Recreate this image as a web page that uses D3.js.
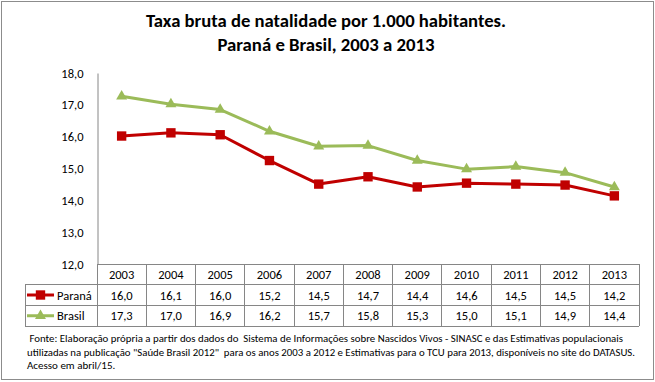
<!DOCTYPE html>
<html>
<head>
<meta charset="utf-8">
<script src="https://cdn.jsdelivr.net/npm/d3@7"></script>
<style>
  html, body { margin: 0; padding: 0; background: #fff; }
  svg { display: block; }
  text { font-family: Carlito, Calibri, Lato, "Open Sans", sans-serif; fill: #000; }
</style>
</head>
<body>
<svg id="chart" width="655" height="382"></svg>
<script>
// ---- data ----
const years = ["2003","2004","2005","2006","2007","2008","2009","2010","2011","2012","2013"];
const seriesNames = ["Paraná", "Brasil"];
// values as plotted
const paranaValues = [16.02, 16.12, 16.06, 15.25, 14.51, 14.74, 14.42, 14.54, 14.51, 14.48, 14.14];
const brasilValues = [17.27, 17.02, 16.85, 16.17, 15.70, 15.72, 15.25, 14.98, 15.06, 14.87, 14.42];
// values as printed in the data table
const paranaTable = [16.0, 16.1, 16.0, 15.2, 14.5, 14.7, 14.4, 14.6, 14.5, 14.5, 14.2];
const brasilTable = [17.3, 17.0, 16.9, 16.2, 15.7, 15.8, 15.3, 15.0, 15.1, 14.9, 14.4];
const yTicks = [12, 13, 14, 15, 16, 17, 18];
const titleLines = ["Taxa bruta de natalidade por 1.000 habitantes.", "Paraná e Brasil, 2003 a 2013"];
const footLines = [
  " Fonte: Elaboração própria a partir dos dados do  Sistema de Informações sobre Nascidos Vivos - SINASC e das Estimativas populacionais",
  "utilizadas na publicação \"Saúde Brasil 2012\"  para os anos 2003 a 2012 e Estimativas para o TCU para 2013, disponíveis no site do DATASUS.",
  "Acesso em abril/15."
];

// ---- layout ----
const svg = d3.select("#chart");
const W = 655, H = 382;
const plot = { left: 97, right: 639, top: 73, bottom: 264 };
const rowY = [264, 284.5, 305.5, 326];
const legendLeft = 25;
const gridColor = "#868686";
const colors = { "Paraná": "#C00000", "Brasil": "#9BBB59" };
const labelSize = 12.5;

const fmt = v => d3.format(".1f")(v).replace(".", ",");

// outer border
svg.append("rect").attr("x", 1.5).attr("y", 1.5).attr("width", W - 3).attr("height", H - 4)
  .attr("fill", "#fff").attr("stroke", "#8c8c8c").attr("stroke-width", 1);

// title
svg.append("g").selectAll("text").data(titleLines).join("text")
  .attr("x", 326).attr("y", (d, i) => 27 + i * 23.5)
  .attr("text-anchor", "middle")
  .attr("font-size", 17).attr("font-weight", "bold")
  .attr("textLength", (d, i) => i === 0 ? 360 : 217)
  .attr("lengthAdjust", "spacingAndGlyphs")
  .text(d => d);

// scales
const x = d3.scaleBand().domain(years).range([plot.left, plot.right]).paddingInner(0).paddingOuter(0);
const y = d3.scaleLinear().domain([12, 18]).range([plot.bottom, plot.top]);

// y axis
const yAxis = d3.axisLeft(y).tickValues(yTicks).tickFormat(fmt).tickSize(0).tickPadding(14);
const gy = svg.append("g").attr("transform", `translate(${plot.left + 0.5},0)`).call(yAxis);
gy.select(".domain").attr("stroke", gridColor).attr("stroke-width", 1);
gy.selectAll("text").attr("font-size", labelSize).attr("fill", "#000")
  .style("font-family", "Carlito, Calibri, Lato, sans-serif");

// data table grid
const tg = svg.append("g").attr("stroke", gridColor).attr("stroke-width", 1).attr("shape-rendering", "crispEdges");
tg.append("line").attr("x1", plot.left).attr("x2", plot.right).attr("y1", rowY[0]).attr("y2", rowY[0]);
[1, 2, 3].forEach(i => {
  tg.append("line").attr("x1", legendLeft).attr("x2", plot.right).attr("y1", rowY[i]).attr("y2", rowY[i]);
});
const bounds = years.map(d => x(d)).concat([x(years[years.length - 1]) + x.bandwidth()]);
tg.selectAll("line.v").data(bounds).join("line").attr("class", "v")
  .attr("x1", d => d).attr("x2", d => d).attr("y1", rowY[0]).attr("y2", rowY[3]);
tg.append("line").attr("x1", legendLeft).attr("x2", legendLeft).attr("y1", rowY[1]).attr("y2", rowY[3]);

// table text
const cellText = (row, arr, isNum) => {
  svg.append("g").selectAll("text").data(arr).join("text")
    .attr("x", (d, i) => x(years[i]) + x.bandwidth() / 2)
    .attr("y", (rowY[row] + rowY[row + 1]) / 2 + 4.5)
    .attr("text-anchor", "middle").attr("font-size", labelSize)
    .text(d => isNum ? fmt(d) : d);
};
cellText(0, years, false);
cellText(1, paranaTable, true);
cellText(2, brasilTable, true);

// line series
const series = [
  { name: "Paraná", values: paranaValues, marker: "square" },
  { name: "Brasil", values: brasilValues, marker: "triangle" }
];
const line = d3.line().x((d, i) => x(years[i]) + x.bandwidth() / 2).y(d => y(d));
const symSquare = d3.symbol().type(d3.symbolSquare).size(88);
const symTri = d3.symbol().type(d3.symbolTriangle).size(52);

series.forEach(s => {
  const g = svg.append("g");
  g.append("path").datum(s.values).attr("d", line)
    .attr("fill", "none").attr("stroke", colors[s.name]).attr("stroke-width", 3)
    .attr("stroke-linejoin", "round");
  g.selectAll("path.m").data(s.values).join("path").attr("class", "m")
    .attr("transform", (d, i) => `translate(${x(years[i]) + x.bandwidth() / 2},${y(d)})`)
    .attr("d", s.marker === "square" ? symSquare : symTri)
    .attr("fill", colors[s.name]);
});

// legend keys inside table
series.forEach((s, k) => {
  const cy = (rowY[k + 1] + rowY[k + 2]) / 2;
  const g = svg.append("g");
  g.append("line").attr("x1", 27).attr("x2", 54).attr("y1", cy).attr("y2", cy)
    .attr("stroke", colors[s.name]).attr("stroke-width", 3);
  g.append("path").attr("transform", `translate(40.5,${cy})`)
    .attr("d", s.marker === "square" ? symSquare : symTri).attr("fill", colors[s.name]);
  g.append("text").attr("x", 57).attr("y", cy + 4.5).attr("font-size", labelSize).text(s.name);
});

// footnote
svg.append("g").selectAll("text").data(footLines).join("text")
  .attr("x", 27)
  .attr("y", (d, i) => 342 + i * 13.5)
  .attr("font-size", 11)
  .attr("xml:space", "preserve")
  .style("white-space", "pre")
  .each(function (d, i) {
    const t = d3.select(this);
    if (i === 0) t.attr("textLength", 596).attr("lengthAdjust", "spacingAndGlyphs");
    if (i === 1) t.attr("textLength", 608).attr("lengthAdjust", "spacingAndGlyphs");
  })
  .text(d => d);
</script>
</body>
</html>
